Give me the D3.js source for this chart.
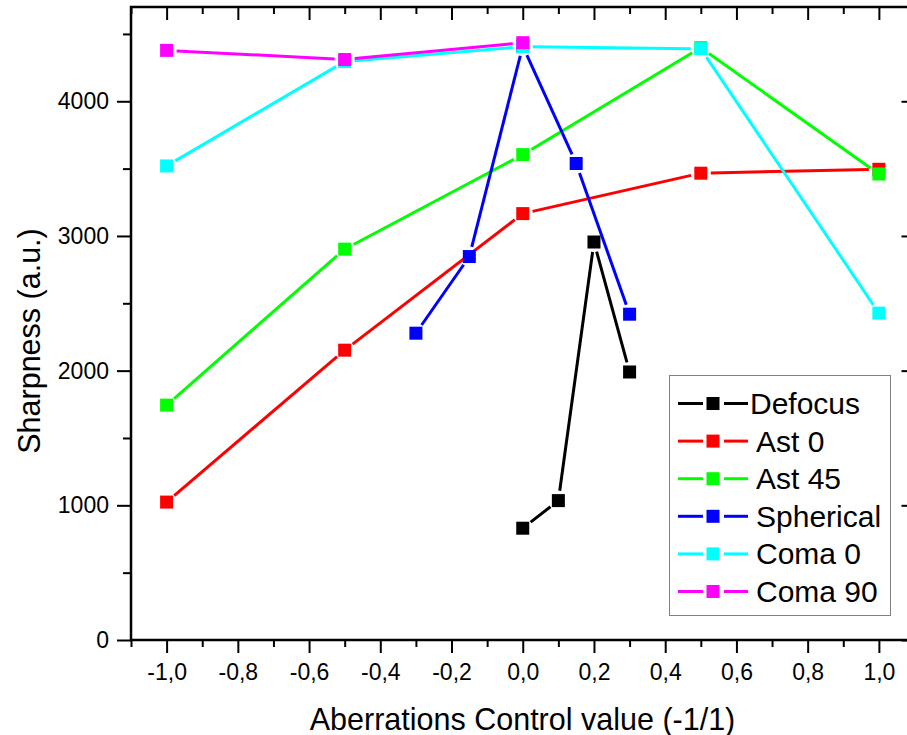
<!DOCTYPE html>
<html>
<head>
<meta charset="utf-8">
<script src="https://cdn.jsdelivr.net/npm/d3@7"></script>
<style>
  html, body { margin: 0; padding: 0; background: #fff; overflow: hidden; }
  svg { display: block; font-family: "Liberation Sans", Arial, sans-serif; }
</style>
</head>
<body>
<svg id="chart" width="907" height="735"></svg>
<script>
// ---- data ----
const seriesNames = ["Defocus", "Ast 0", "Ast 45", "Spherical", "Coma 0", "Coma 90"];
const seriesColors = ["#000000", "#ff0000", "#00ff00", "#0000ff", "#00ffff", "#ff00ff"];

const defocusX = [0.0, 0.1, 0.2, 0.3];
const defocusY = [830, 1035, 2955, 1990];

const ast0X = [-1.0, -0.5, 0.0, 0.5, 1.0];
const ast0Y = [1024, 2152, 3166, 3466, 3495];

const ast45X = [-1.0, -0.5, 0.0, 0.5, 1.0];
const ast45Y = [1744, 2902, 3604, 4398, 3460];

const sphericalX = [-0.3, -0.15, 0.0, 0.15, 0.3];
const sphericalY = [2278, 2847, 4410, 3538, 2419];

const coma0X = [-1.0, -0.5, 0.0, 0.5, 1.0];
const coma0Y = [3520, 4295, 4405, 4390, 2427];

const coma90X = [-1.0, -0.5, 0.0];
const coma90Y = [4378, 4310, 4435];

const xMajorTicks = [-1.0, -0.8, -0.6, -0.4, -0.2, 0.0, 0.2, 0.4, 0.6, 0.8, 1.0];
const xMinorTicks = [-1.1, -0.9, -0.7, -0.5, -0.3, -0.1, 0.1, 0.3, 0.5, 0.7, 0.9, 1.1];
const yMajorTicks = [0, 1000, 2000, 3000, 4000];
const yMinorTicks = [500, 1500, 2500, 3500, 4500];

const xTitle = "Aberrations Control value (-1/1)";
const yTitle = "Sharpness (a.u.)";

const seriesX = [defocusX, ast0X, ast45X, sphericalX, coma0X, coma90X];
const seriesY = [defocusY, ast0Y, ast45Y, sphericalY, coma0Y, coma90Y];

// ---- layout ----
const svg = d3.select("#chart");
const L = 131, R = 914.5, T = 7, B = 640;
const x = d3.scaleLinear().domain([-1.1, 1.1]).range([L, R]);
const y = d3.scaleLinear().domain([0, 4700]).range([B, T]);

const fmtX = d => d3.format(".1f")(d).replace(".", ",").replace("−", "-");

function styleAxis(g, fs) {
  g.select(".domain").remove();
  g.selectAll("line").attr("stroke", "#000").attr("stroke-width", 2);
  g.selectAll("text").attr("fill", "#000").attr("font-size", fs)
    .attr("font-family", "'Liberation Sans', Arial, sans-serif");
}

// bottom
svg.append("g").attr("transform", `translate(0,${B})`)
  .call(d3.axisBottom(x).tickValues(xMajorTicks).tickSize(13).tickPadding(11).tickFormat(fmtX))
  .call(g => styleAxis(g, 23));
svg.append("g").attr("transform", `translate(0,${B})`)
  .call(d3.axisBottom(x).tickValues(xMinorTicks).tickSize(7).tickFormat(""))
  .call(g => styleAxis(g, 23));
// top (inward)
svg.append("g").attr("transform", `translate(0,${T})`)
  .call(d3.axisBottom(x).tickValues(xMajorTicks).tickSize(13).tickFormat(""))
  .call(g => styleAxis(g, 23));
svg.append("g").attr("transform", `translate(0,${T})`)
  .call(d3.axisBottom(x).tickValues(xMinorTicks).tickSize(7).tickFormat(""))
  .call(g => styleAxis(g, 23));
// left
svg.append("g").attr("transform", `translate(${L},0)`)
  .call(d3.axisLeft(y).tickValues(yMajorTicks).tickSize(14).tickPadding(8).tickFormat(d3.format("d")))
  .call(g => styleAxis(g, 23));
svg.append("g").attr("transform", `translate(${L},0)`)
  .call(d3.axisLeft(y).tickValues(yMinorTicks).tickSize(8).tickFormat(""))
  .call(g => styleAxis(g, 23));
// right (inward)
svg.append("g").attr("transform", `translate(${R},0)`)
  .call(d3.axisLeft(y).tickValues(yMajorTicks).tickSize(13).tickFormat(""))
  .call(g => styleAxis(g, 23));
svg.append("g").attr("transform", `translate(${R},0)`)
  .call(d3.axisLeft(y).tickValues(yMinorTicks).tickSize(7).tickFormat(""))
  .call(g => styleAxis(g, 23));

// frame
svg.append("rect").attr("x", L).attr("y", T).attr("width", R - L).attr("height", B - T)
  .attr("fill", "none").attr("stroke", "#000").attr("stroke-width", 2.5);

// titles
svg.append("text").attr("x", 522.5).attr("y", 730).attr("text-anchor", "middle")
  .attr("font-size", 30.5).attr("fill", "#000").text(xTitle);
svg.append("text").attr("transform", "translate(40,341) rotate(-90)").attr("text-anchor", "middle")
  .attr("font-size", 30.5).attr("fill", "#000").text(yTitle);

// ---- series ----
const MS = 13, GAP = 10;
function gappedSegments(pts) {
  const segs = [];
  for (let i = 0; i < pts.length - 1; i++) {
    const [x1, y1] = pts[i], [x2, y2] = pts[i + 1];
    const dx = x2 - x1, dy = y2 - y1, len = Math.hypot(dx, dy);
    if (len <= 2 * GAP) continue;
    const ux = dx / len, uy = dy / len;
    segs.push([[x1 + ux * GAP, y1 + uy * GAP], [x2 - ux * GAP, y2 - uy * GAP]]);
  }
  return segs;
}

const plot = svg.append("g");
seriesNames.forEach((name, si) => {
  const pts = seriesX[si].map((xv, i) => [x(xv), y(seriesY[si][i])]);
  const g = plot.append("g");
  g.selectAll("line").data(gappedSegments(pts)).join("line")
    .attr("x1", d => d[0][0]).attr("y1", d => d[0][1])
    .attr("x2", d => d[1][0]).attr("y2", d => d[1][1])
    .attr("stroke", seriesColors[si]).attr("stroke-width", 3);
  g.selectAll("rect").data(pts).join("rect")
    .attr("x", d => d[0] - MS / 2).attr("y", d => d[1] - MS / 2)
    .attr("width", MS).attr("height", MS).attr("fill", seriesColors[si]);
});

// ---- legend ----
const lg = svg.append("g");
lg.append("rect").attr("x", 669.5).attr("y", 375.5).attr("width", 221).attr("height", 240)
  .attr("fill", "#fff").attr("stroke", "#808080").attr("stroke-width", 1);
seriesNames.forEach((name, si) => {
  const cy = 403.5 + si * 37.6;
  const c = seriesColors[si];
  lg.append("line").attr("x1", 678).attr("x2", 703).attr("y1", cy).attr("y2", cy)
    .attr("stroke", c).attr("stroke-width", 3);
  lg.append("line").attr("x1", 724).attr("x2", 748).attr("y1", cy).attr("y2", cy)
    .attr("stroke", c).attr("stroke-width", 3);
  lg.append("rect").attr("x", 713 - MS / 2).attr("y", cy - MS / 2).attr("width", MS).attr("height", MS)
    .attr("fill", c);
  lg.append("text").attr("x", si === 0 ? 750 : 756).attr("y", cy + 10.5).attr("font-size", 30)
    .attr("fill", "#000").text(name);
});
</script>
</body>
</html>
